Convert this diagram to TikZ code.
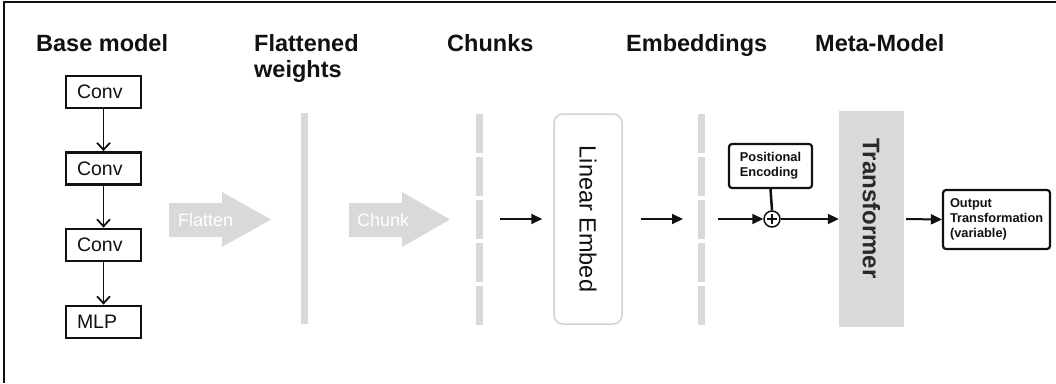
\documentclass[tikz,border=0pt]{standalone}
\usepackage{fontspec}
\setmainfont{Liberation Sans}
\usetikzlibrary{arrows.meta}
\definecolor{barfill}{HTML}{D9D9D9}
\definecolor{boxedge}{HTML}{D2D2D2}
\definecolor{ink}{HTML}{111111}
\begin{document}
\begin{tikzpicture}[x=1pt,y=-1pt,
  title/.style={anchor=base west,inner sep=0pt,align=left,text=ink,
    font=\fontsize{23.5}{26}\selectfont\bfseries},
  layerbox/.style={draw=ink,line width=2.8pt,minimum height=32pt,
    text width=53pt,inner xsep=11pt,inner ysep=0pt,align=left,text=ink,
    font=\fontsize{19.5}{22}\selectfont},
  down/.style={draw=ink,line width=1.8pt,-{Straight Barb[length=7pt,width=13pt]}},
  flow/.style={draw=ink,line width=2pt,-{Triangle[length=11pt,width=10pt]}},
  blocklabel/.style={anchor=west,inner sep=0pt,text=white,
    font=\fontsize{18}{20}\selectfont},
  smallbox/.style={draw=ink,line width=2.2pt,rounded corners=3pt,text=ink,
    align=left,font=\fontsize{12.8}{15.3}\selectfont\bfseries},
  segment/.style={fill=barfill},
]
\useasboundingbox (0,0) rectangle (1056,383);
% frame
\draw[line width=2pt,ink] (4,383) -- (4,2) -- (1056,2);

% column titles
\node[title] (t1) at (36,51) {Base model};
\node[title] (t2) at (254,77) {Flattened\\weights};
\node[title] (t3) at (447,51) {Chunks};
\node[title] (t4) at (626,51) {Embeddings};
\node[title] (t5) at (815,51) {Meta-Model};

% base model layers
\node[layerbox] (c1) at (103.5,92) {Conv};
\node[layerbox] (c2) at (103.5,168.5) {Conv};
\node[layerbox] (c3) at (103.5,245) {Conv};
\node[layerbox] (c4) at (103.5,322) {MLP};
\draw[down] (c1.south) -- (c2.north);
\draw[down] (c2.south) -- (c3.north);
\draw[down] (c3.south) -- (c4.north);

% flatten block arrow
\fill[barfill] (169,203) -- (222,203) -- (222,192) -- (271,219.5)
  -- (222,247) -- (222,237) -- (169,237) -- cycle;
\node[blocklabel] (fl) at (178,220) {Flatten};

% flattened weight vector
\fill[segment] (301,113) rectangle (308,324);

% chunk block arrow
\fill[barfill] (349,203) -- (402,203) -- (402,192) -- (450,219.5)
  -- (402,247) -- (402,237) -- (349,237) -- cycle;
\node[blocklabel] (ck) at (357,220) {Chunk};

% chunks and embeddings
\foreach \i in {0,...,4} {
  \fill[segment] (476,114+43*\i) rectangle (483,153+43*\i);
  \fill[segment] (698,114+43*\i) rectangle (705,153+43*\i);
}

% linear embedding (rotated: its south side faces left)
\node[draw=boxedge,line width=1.5pt,rounded corners=9pt,rotate=-90,
  minimum width=210pt,minimum height=68pt,inner sep=0pt,text=ink,
  font=\fontsize{23.5}{26}\selectfont] (le) at (588,219) {Linear Embed};
\coordinate (chk) at (500,219);
\draw[flow,shorten >=11pt] (chk) -- (le.south);
\coordinate (emb) at (683,219);
\draw[flow,shorten <=18pt] (le.north) -- (emb);

% positional encoding
\node[smallbox,minimum width=83pt,minimum height=44pt,inner xsep=10pt]
  (pe) at (770.5,166) {Positional\\Encoding};
\node[circle,draw=ink,fill=white,line width=1.5pt,minimum size=16pt,
  inner sep=0pt] (pl) at (772,219) {};
\draw[ink,line width=1.3pt] ([xshift=-5pt]pl.center) -- ([xshift=5pt]pl.center)
  ([yshift=-5pt]pl.center) -- ([yshift=5pt]pl.center);
\draw[ink,line width=2.5pt] (pe.south) -- (pl.north);
\coordinate (pin) at (718,219);
\draw[flow] (pin) -- (pl.west);

% transformer
\node[fill=barfill,minimum width=65pt,minimum height=216pt,inner sep=0pt]
  (tf) at (871.5,219) {};
\node[rotate=-90,inner sep=0pt,text=ink!90,
  font=\fontsize{24}{26}\selectfont\bfseries] (tft) at (871.5,208.5) {Transformer};
\draw[flow] (pl.east) -- (tf.west);

% output head
\node[smallbox,minimum height=59pt,text width=93pt,inner xsep=7pt]
  (out) at (996.5,219.5) {Output\\Transformation\\(variable)};
\draw[flow,shorten <=2pt] (tf.east) -- (out.west);
\end{tikzpicture}
\end{document}
